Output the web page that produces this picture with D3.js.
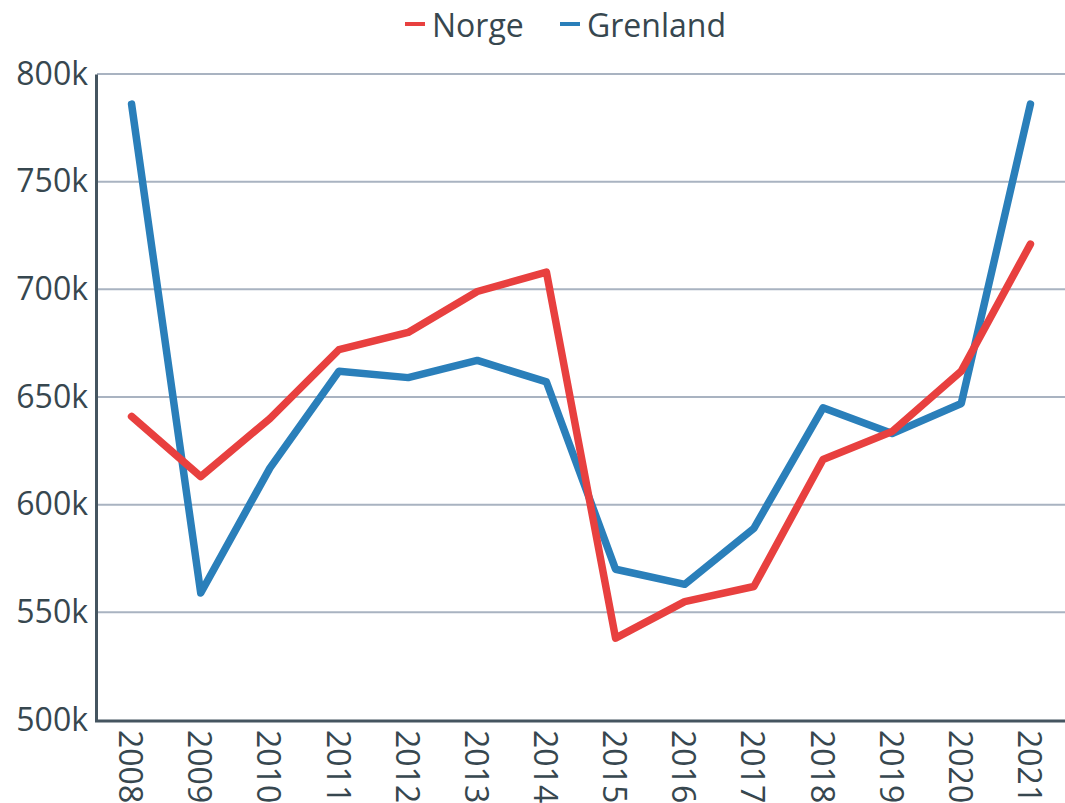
<!DOCTYPE html>
<html>
<head>
<meta charset="utf-8">
<script src="https://cdn.jsdelivr.net/npm/d3@7"></script>
<style>
  body { margin: 0; background: #fff; }
  svg { display: block; font-family: "Open Sans", sans-serif; }
</style>
</head>
<body>
<svg width="1065" height="803"></svg>
<script>
// years on the x axis
var years = ["2008", "2009", "2010", "2011", "2012", "2013", "2014",
  "2015", "2016", "2017", "2018", "2019", "2020", "2021"];
// values in thousands
var norge = [641, 613, 640, 672, 680, 699, 708, 538, 555, 562, 621, 634, 662, 721];
var grenland = [786, 559, 617, 662, 659, 667, 657, 570, 563, 589, 645, 633, 647, 786];
var yTicks = [500, 550, 600, 650, 700, 750, 800];
var seriesNames = ["Norge", "Grenland"];
var seriesColors = ["#e8403f", "#2a7fba"];

var svg = d3.select("svg");
var textColor = "#37474f";

var plotLeft = 97, plotRight = 1065, plotTop = 74, plotBottom = 720;

var x = d3.scaleBand().domain(years).range([plotLeft, plotRight]);
var y = d3.scaleLinear().domain([500, 800]).range([plotBottom, plotTop]);

// gridlines
svg.append("g")
  .selectAll("line")
  .data(yTicks.slice(1))
  .enter()
  .append("line")
  .attr("x1", plotLeft)
  .attr("x2", plotRight)
  .attr("y1", function (d) { return y(d); })
  .attr("y2", function (d) { return y(d); })
  .attr("stroke", "#a9b3c1")
  .attr("stroke-width", 2);

// y axis
var yAxis = svg.append("g")
  .attr("transform", "translate(" + (plotLeft - 1) + ",0)")
  .call(d3.axisLeft(y).tickValues(yTicks).tickSize(0).tickPadding(8)
    .tickFormat(function (d) { return d + "k"; }));
yAxis.select(".domain").attr("stroke", "#455560").attr("stroke-width", 3);
yAxis.selectAll("text")
  .attr("fill", textColor)
  .style("font-size", "32px")
  .style("font-family", "Open Sans");

// x axis
var xAxis = svg.append("g")
  .attr("transform", "translate(0," + (plotBottom + 1) + ")")
  .call(d3.axisBottom(x).tickSize(0).tickPadding(0));
xAxis.select(".domain").attr("stroke", "#455560").attr("stroke-width", 3)
  .attr("d", "M" + (plotLeft - 2) + ",0H" + plotRight);
xAxis.selectAll("text")
  .attr("fill", textColor)
  .style("font-size", "32px")
  .style("font-family", "Open Sans")
  .style("text-anchor", "start")
  .attr("dy", null)
  .attr("y", 0)
  .attr("transform", "translate(0,9) rotate(90)")
  .attr("dominant-baseline", "central");

// lines, Grenland below Norge
var line = d3.line()
  .x(function (d, i) { return x(years[i]) + x.bandwidth() / 2; })
  .y(function (d) { return y(d); });

[grenland, norge].forEach(function (vals, k) {
  var color = k === 0 ? seriesColors[1] : seriesColors[0];
  svg.append("path")
    .datum(vals)
    .attr("d", line)
    .attr("fill", "none")
    .attr("stroke", color)
    .attr("stroke-width", 7.5)
    .attr("stroke-linecap", "round")
    .attr("stroke-linejoin", "round");
});

// legend
var legendX = [405, 560];
var legend = svg.append("g");
seriesNames.forEach(function (name, i) {
  legend.append("line")
    .attr("x1", legendX[i])
    .attr("x2", legendX[i] + 20)
    .attr("y1", 24)
    .attr("y2", 24)
    .attr("stroke", seriesColors[i])
    .attr("stroke-width", 4);
  legend.append("text")
    .attr("x", legendX[i] + 27)
    .attr("y", 24)
    .attr("dominant-baseline", "central")
    .attr("fill", textColor)
    .style("font-size", "32px")
    .text(name);
});
</script>
</body>
</html>
